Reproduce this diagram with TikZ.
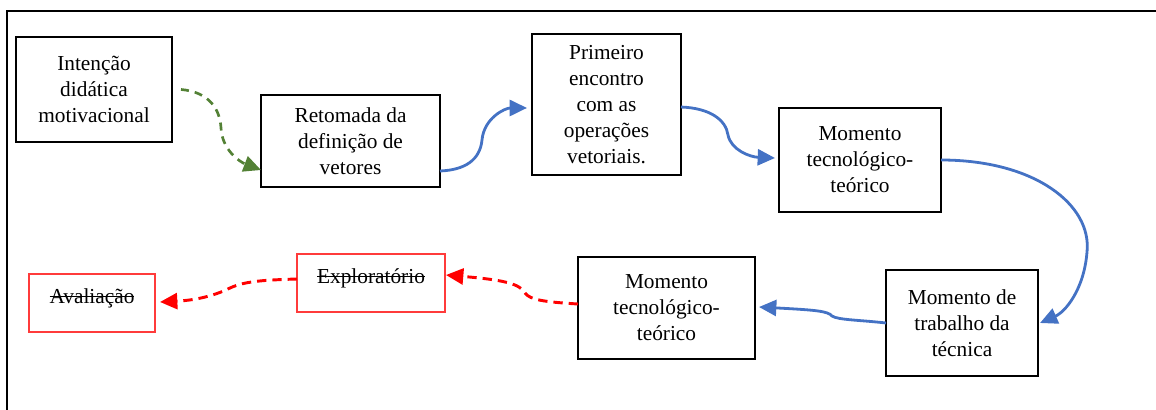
\documentclass[tikz,border=0pt]{standalone}
\usepackage{fontspec}
\setmainfont{Liberation Serif}
\usetikzlibrary{arrows.meta}
\definecolor{blueline}{HTML}{4472C4}
\definecolor{greenline}{HTML}{538135}
\definecolor{redline}{HTML}{FF0000}
\definecolor{boxred}{HTML}{FF3B3B}
\newcommand\mystrike[1]{\setbox0\hbox{#1}\rlap{\rule[0.28em]{\wd0}{0.9pt}}\box0}
\begin{document}
\begin{tikzpicture}[x=0.75pt,y=-0.75pt,
  txt/.style={align=center, font=\fontsize{16}{19.5}\selectfont, text=black},
  box/.style={txt, draw=black, line width=0.8pt, inner sep=0pt, outer sep=0pt},
  redbox/.style={txt, draw=boxred, line width=1pt, inner sep=0pt, outer sep=0pt, text height=6pt, text depth=6pt},
  tip/.style={-{Triangle[length=13pt,width=12pt]}},
  bluearrow/.style={tip, draw=blueline, line width=2.1pt},
  greenarrow/.style={tip, draw=greenline, line width=2pt, dash pattern=on 6pt off 4.5pt},
  redarrow/.style={tip, draw=redline, line width=2.2pt, dash pattern=on 7pt off 4.5pt},
  frame/.style={draw=black, line width=2pt, line join=miter}
]
\useasboundingbox (0,0) rectangle (1156,410);
\draw[frame] (7,410) -- (7,11) -- (1156,11);

\node[box, minimum width=117pt, minimum height=78.75pt] (A) at (94,89.5) {Intenção\\didática\\motivacional};
\node[box, minimum width=134.25pt, minimum height=69pt] (B) at (350.5,141) {Retomada da\\definição de\\vetores};
\node[box, minimum width=111.75pt, minimum height=105.75pt] (C) at (606.5,104.5) {Primeiro\\encontro\\com as\\operações\\vetoriais.};
\node[box, minimum width=121.5pt, minimum height=78pt] (D) at (860,160) {Momento\\tecnológico-\\teórico};
\node[box, minimum width=114pt, minimum height=79.5pt] (E) at (962,323) {Momento de\\trabalho da\\técnica};
\node[box, minimum width=132.75pt, minimum height=76.5pt] (F) at (666.5,308) {Momento\\tecnológico-\\teórico};
\node[redbox, minimum width=111pt, minimum height=43.5pt] (G) at (371,283) {\mystrike{Exploratório}};
\node[redbox, minimum width=94.5pt, minimum height=43.5pt] (H) at (92,303) {\mystrike{Avaliação}};

% green dashed
\draw[greenarrow] ([xshift=6.75pt]A.east) .. controls (210,92) and (220,110) .. (221,128)
  .. controls (222,150) and (240,162) .. ([yshift=-21.75pt]B.west);
% blue
\draw[bluearrow] ([yshift=-22.5pt]B.east) .. controls (465,170) and (480,160) .. (482,140)
  .. controls (484,118) and (505,108) .. ([xshift=-3.75pt,yshift=-2.6pt]C.west);
\draw[bluearrow] ([yshift=-1.9pt]C.east) .. controls (710,108) and (726,120) .. (728,135)
  .. controls (731,150) and (750,157) .. ([xshift=-3pt,yshift=1.5pt]D.west);
\draw[bluearrow] (D.east) .. controls (1035,160) and (1092,205) .. (1087,252)
  .. controls (1084,290) and (1065,312) .. ([xshift=1.5pt]E.east);
\draw[bluearrow] (E.west) .. controls (860,320) and (838,320) .. (832,316)
  .. controls (828,311) and (815,310) .. ([xshift=3pt,yshift=0.75pt]F.east);
% red dashed
\draw[redarrow] ([yshift=3pt]F.west) .. controls (545,302) and (530,300) .. (525,293)
  .. controls (520,284) and (505,280) .. ([xshift=0.75pt,yshift=6pt]G.east);
\draw[redarrow] ([yshift=3pt]G.west) .. controls (265,280) and (245,281) .. (230,288)
  .. controls (218,294) and (200,300) .. ([xshift=3.75pt,yshift=0.75pt]H.east);
\end{tikzpicture}
\end{document}
